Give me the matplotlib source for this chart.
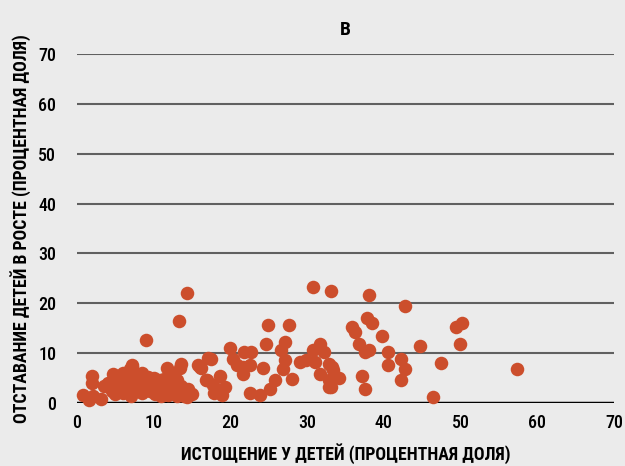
"""Scatter: stunting vs wasting among children (panel B)."""

import matplotlib.pyplot as plt

# wasting (%) and stunting (%) per country
wasting = [
    14.4, 13.3, 9.0, 30.7, 33.1, 38.1, 42.8, 57.4, 46.4,
    37.8, 38.4, 35.9, 36.2, 39.7, 49.4, 50.2, 36.8, 37.5, 38.1, 40.6,
    44.7, 49.9, 42.2, 40.6, 42.8, 47.5, 37.2, 42.2, 37.5,
    33.2, 33.4, 34.2, 33.1,
    24.9, 27.6, 24.6, 27.1, 26.6, 19.9, 21.8, 22.7, 17.5, 20.4, 20.8,
    21.6, 22.6, 21.6, 24.3, 27.1, 26.9, 29.1, 29.9, 31.0, 30.8, 31.7,
    32.2, 32.8, 31.7, 32.8, 32.9, 28.0, 25.8, 25.2, 22.6, 23.9,
    16.9, 17.7, 17.8, 18.6, 18.9, 19.3, 16.0,
    17.1, 11.7, 13.6, 13.4, 15.8, 16.2, 16.8, 7.2, 6.9, 4.7, 2.0, 2.0,
    0.8, 2.1, 3.1, 1.5, 11.3, 13.0, 14.3, 14.5, 11.9, 10.2, 10.8, 12.8,
    4.0, 4.5, 5.0, 5.5, 6.0, 6.0, 6.5, 7.0, 7.0, 7.5, 7.5, 8.0, 8.0,
    8.5, 8.5, 9.0, 9.0, 9.5, 10.0, 10.5, 10.5, 11.0, 11.0, 11.5, 12.0,
    12.5, 12.5, 13.0, 13.5, 14.0, 14.5, 15.0, 6.0, 7.2, 9.2, 3.5, 5.0,
]
stunting = [
    22.0, 16.4, 12.6, 23.3, 22.4, 21.6, 19.4, 6.8, 1.2,
    17.0, 16.1, 15.3, 14.3, 13.5, 15.3, 16.1, 11.8, 10.3, 10.6, 10.2,
    11.4, 11.8, 8.9, 7.6, 6.8, 8.0, 5.4, 4.6, 2.9,
    7.3, 6.6, 5.1, 3.3,
    15.6, 15.6, 11.8, 12.3, 10.6, 11.0, 10.2, 10.2, 8.8, 8.8, 7.6,
    7.3, 7.6, 5.8, 7.1, 8.6, 6.9, 8.3, 8.6, 8.3, 10.6, 11.8,
    10.3, 7.9, 5.9, 4.6, 3.3, 4.9, 4.6, 2.9, 2.1, 1.6,
    4.6, 3.6, 2.1, 5.4, 1.6, 3.3, 7.3,
    9.0, 7.1, 7.9, 7.1, 7.6, 7.1, 4.6, 7.6, 6.9, 5.9, 5.4, 4.1,
    1.6, 1.4, 0.9, 0.7, 4.9, 4.6, 1.3, 2.9, 1.6, 1.9, 4.6, 4.6,
    4.0, 2.5, 3.5, 5.5, 2.0, 4.0, 3.0, 1.5, 5.0, 2.5, 4.0, 3.0, 5.0,
    2.0, 6.0, 3.5, 4.5, 2.5, 5.0, 2.0, 3.5, 1.5, 3.0, 4.5, 2.0,
    3.0, 5.5, 1.5, 3.5, 1.5, 2.2, 1.8, 6.0, 7.2, 5.2, 3.5, 1.8,
]
ticks = [0, 10, 20, 30, 40, 50, 60, 70]

BG = "#ebebeb"
DOT = "#cc4e2c"
FONT = ["Liberation Sans Narrow", "Roboto Condensed", "DejaVu Sans Condensed",
        "Roboto", "DejaVu Sans"]

plt.rcParams["font.family"] = FONT

fig = plt.figure(figsize=(6.25, 4.66), dpi=100, facecolor=BG)
ax = fig.add_axes([0.1232, 0.1352, 0.8592, 0.7489], facecolor=BG)

ax.scatter(wasting, stunting, s=95, color=DOT, linewidths=0, zorder=3,
           clip_on=False)

ax.set_xlim(0, 70)
ax.set_ylim(0, 70)
ax.set_xticks(ticks)
ax.set_yticks(ticks)

for y in ticks[1:]:
    ax.axhline(y, color="#606060", linewidth=1.5, zorder=1)
ax.axhline(0, color="black", linewidth=2.5, zorder=2)

for side in ("top", "right", "left", "bottom"):
    ax.spines[side].set_visible(False)
ax.tick_params(length=0, labelsize=13, pad=8, labelcolor="black")
ax.tick_params(axis="y", pad=15)
for label in ax.get_xticklabels() + ax.get_yticklabels():
    label.set_fontweight("medium")

ax.set_title("В", fontsize=14, fontweight="bold", pad=14)
ax.set_xlabel("ИСТОЩЕНИЕ У ДЕТЕЙ (ПРОЦЕНТНАЯ ДОЛЯ)", fontsize=12.8,
              fontweight="bold", labelpad=8)
ax.set_ylabel("ОТСТАВАНИЕ ДЕТЕЙ В РОСТЕ (ПРОЦЕНТНАЯ ДОЛЯ)", fontsize=12.8,
              fontweight="bold", labelpad=5)

fig.savefig("out.png", dpi=100, facecolor=BG)
